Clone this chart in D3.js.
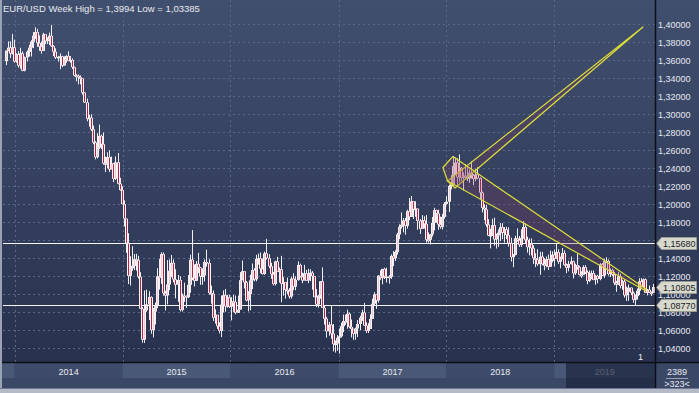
<!DOCTYPE html>
<html><head><meta charset="utf-8">
<script src="https://cdn.jsdelivr.net/npm/d3@7"></script>
<style>html,body{margin:0;padding:0;background:#2f3a57;overflow:hidden}svg{display:block}</style>
</head><body><svg id="c" width="699" height="393"></svg>
<script>
// ---------- DATA ----------
const firstWeek = Date.UTC(2013, 11, 2);   // Monday of first weekly bar
const firstOpen = 1.3590;
const closes = [
 1.3707,1.3740,1.3675,1.3743,1.3588,
 1.3666,1.3542,1.3676,1.3486,1.3633,1.3693,1.3740,1.3806,1.3874,1.3913,1.3792,1.3752,1.3704,1.3888,1.3813,1.3830,1.3872,1.3757,1.3695,1.3630,1.3638,1.3643,1.3542,1.3609,1.3647,1.3594,1.3604,1.3523,1.3430,1.3428,1.3412,1.3398,1.3242,1.3132,1.2951,1.2962,1.2832,1.2686,1.2524,1.2629,1.2760,1.2668,1.2455,1.2456,1.2525,1.2388,1.2452,1.2284,1.2466,1.2229,1.2158,1.2002,
 1.1840,1.1567,1.1205,1.1290,1.1316,1.1389,1.1380,1.1195,1.0840,1.0497,1.0822,1.0888,1.0970,1.0602,1.0808,1.0873,1.1199,1.1197,1.1446,1.1013,1.0987,1.1109,1.1262,1.1349,1.1166,1.1106,1.1159,1.0827,1.0984,1.0982,1.0968,1.1105,1.1384,1.1181,1.1150,1.1338,1.1297,1.1200,1.1208,1.1359,1.1348,1.1014,1.1005,1.0740,1.0772,1.0646,1.0593,1.0885,1.0990,1.0866,1.0964,1.0862,
 1.0920,1.0916,1.0795,1.0831,1.1157,1.1256,1.1132,1.0933,1.1002,1.1155,1.1268,1.1167,1.1393,1.1400,1.1283,1.1226,1.1454,1.1402,1.1312,1.1223,1.1114,1.1365,1.1250,1.1276,1.1117,1.1137,1.1050,1.1038,1.0976,1.1173,1.1085,1.1160,1.1325,1.1197,1.1154,1.1233,1.1154,1.1224,1.1239,1.1201,1.0969,1.0887,1.0985,1.1144,1.0850,1.0729,1.0589,1.0662,1.0563,1.0447,1.0453,1.0517,
 1.0534,1.0645,1.0702,1.0697,1.0784,1.0638,1.0615,1.0562,1.0620,1.0671,1.0740,1.0797,1.0653,1.0594,1.0614,1.0727,1.0895,1.0998,1.0932,1.1206,1.1183,1.1282,1.1197,1.1197,1.1195,1.1426,1.1400,1.1469,1.1665,1.1750,1.1773,1.1819,1.1761,1.1923,1.1860,1.2033,1.1945,1.1952,1.1816,1.1728,1.1821,1.1782,1.1607,1.1606,1.1667,1.1794,1.1934,1.1898,1.1776,1.1750,1.1860,1.2005,
 1.2029,1.2201,1.2221,1.2424,1.2462,1.2300,1.2405,1.2294,1.2317,1.2307,1.2287,1.2352,1.2323,1.2282,1.2330,1.2290,1.2130,1.1960,1.1942,1.1775,1.1653,1.1659,1.1767,1.1609,1.1655,1.1684,1.1745,1.1686,1.1720,1.1658,1.1567,1.1413,1.1438,1.1622,1.1602,1.1550,1.1625,1.1747,1.1605,1.1524,1.1558,1.1512,1.1401,1.1387,1.1335,1.1418,1.1336,1.1317,1.1390,1.1306,1.1371,1.1439,1.1397,
 1.1468,1.1363,1.1408,1.1457,1.1325,1.1295,1.1336,1.1365,1.1234,1.1325,1.1302,1.1217,1.1216,1.1302,1.1246,1.1150,1.1200,1.1235,1.1160,1.1205,1.1170,1.1333,1.1208,1.1370,1.1370,1.1225,1.1270,1.1218,1.1127,1.1108,1.1200,1.1092,1.1143,1.0989,1.1028,1.1074,1.1016,1.0940,1.0979,1.1039,1.1143,1.1080,1.1165,1.1017,1.1051,1.1019,1.1016,1.1081
];
const highs = [
 1.3709,1.3811,1.3811,1.3893,1.3830,
 1.3678,1.3702,1.3740,1.3700,1.3642,1.3710,1.3773,1.3824,1.3915,1.3967,1.3948,1.3877,1.3810,1.3906,1.3867,1.3855,1.3907,1.3994,1.3770,1.3733,1.3650,1.3677,1.3650,1.3644,1.3657,1.3700,1.3648,1.3620,1.3530,1.3445,1.3444,1.3433,1.3359,1.3239,1.3174,1.2994,1.3001,1.2875,1.2702,1.2791,1.2887,1.2775,1.2798,1.2531,1.2578,1.2600,1.2531,1.2457,1.2532,1.2570,1.2295,1.2200,
 1.2044,1.1840,1.1679,1.1423,1.1534,1.1448,1.1450,1.1428,1.1245,1.0860,1.1043,1.1052,1.1035,1.0978,1.0849,1.0908,1.1290,1.1392,1.1467,1.1465,1.1040,1.1380,1.1386,1.1436,1.1387,1.1278,1.1215,1.1201,1.1008,1.1129,1.0987,1.1214,1.1440,1.1714,1.1332,1.1370,1.1460,1.1301,1.1287,1.1387,1.1495,1.1389,1.1096,1.1043,1.0833,1.0760,1.0690,1.0987,1.1043,1.1059,1.0994,1.0993,
 1.0970,1.0995,1.0986,1.0985,1.1246,1.1376,1.1216,1.1148,1.1034,1.1218,1.1342,1.1290,1.1438,1.1453,1.1464,1.1398,1.1475,1.1616,1.1445,1.1350,1.1247,1.1373,1.1416,1.1298,1.1427,1.1189,1.1120,1.1186,1.1069,1.1197,1.1234,1.1200,1.1366,1.1341,1.1241,1.1327,1.1271,1.1283,1.1278,1.1258,1.1137,1.1058,1.0992,1.1146,1.1299,1.0870,1.0750,1.0693,1.0873,1.0670,1.0487,1.0548,
 1.0620,1.0685,1.0775,1.0774,1.0829,1.0799,1.0720,1.0618,1.0630,1.0713,1.0761,1.0829,1.0905,1.0690,1.0680,1.0779,1.0951,1.1024,1.0998,1.1212,1.1268,1.1283,1.1296,1.1296,1.1212,1.1445,1.1480,1.1490,1.1683,1.1777,1.1910,1.1846,1.1849,1.1940,1.2070,1.2092,1.2035,1.2034,1.1948,1.1834,1.1880,1.1867,1.1880,1.1688,1.1670,1.1860,1.1961,1.1940,1.1940,1.1863,1.1893,1.2023,
 1.2089,1.2219,1.2323,1.2536,1.2520,1.2511,1.2555,1.2414,1.2355,1.2446,1.2413,1.2388,1.2476,1.2337,1.2396,1.2414,1.2300,1.2142,1.1999,1.1996,1.1834,1.1728,1.1840,1.1852,1.1673,1.1720,1.1791,1.1790,1.1747,1.1750,1.1745,1.1629,1.1448,1.1650,1.1733,1.1647,1.1722,1.1815,1.1791,1.1640,1.1622,1.1621,1.1545,1.1456,1.1500,1.1472,1.1472,1.1401,1.1420,1.1442,1.1486,1.1477,1.1497,
 1.1570,1.1500,1.1419,1.1514,1.1489,1.1342,1.1372,1.1420,1.1374,1.1339,1.1448,1.1316,1.1255,1.1323,1.1324,1.1265,1.1265,1.1263,1.1264,1.1216,1.1216,1.1348,1.1348,1.1393,1.1412,1.1386,1.1286,1.1286,1.1249,1.1150,1.1250,1.1230,1.1161,1.1164,1.1085,1.1109,1.1076,1.1032,1.0998,1.1064,1.1179,1.1180,1.1175,1.1176,1.1059,1.1097,1.1031,1.1116
];
const lows = [
 1.3546,1.3700,1.3626,1.3665,1.3574,
 1.3573,1.3520,1.3507,1.3478,1.3477,1.3587,1.3642,1.3642,1.3735,1.3838,1.3750,1.3705,1.3673,1.3715,1.3780,1.3780,1.3772,1.3750,1.3647,1.3615,1.3585,1.3502,1.3525,1.3560,1.3573,1.3590,1.3575,1.3503,1.3421,1.3367,1.3333,1.3332,1.3218,1.3125,1.2922,1.2861,1.2814,1.2667,1.2500,1.2510,1.2612,1.2614,1.2440,1.2358,1.2399,1.2359,1.2394,1.2246,1.2269,1.2221,1.2150,1.1999,
 1.1754,1.1460,1.1114,1.1098,1.1261,1.1270,1.1263,1.1176,1.0837,1.0462,1.0459,1.0806,1.0713,1.0562,1.0521,1.0665,1.0846,1.1052,1.1115,1.0985,1.0819,1.0888,1.1048,1.1193,1.1134,1.0955,1.0916,1.0809,1.0808,1.0915,1.0848,1.0957,1.1017,1.1157,1.1087,1.1154,1.1236,1.1105,1.1106,1.1144,1.1308,1.0997,1.0896,1.0704,1.0674,1.0616,1.0565,1.0524,1.0800,1.0805,1.0850,1.0847,
 1.0711,1.0804,1.0778,1.0809,1.0849,1.1159,1.1065,1.0922,1.0810,1.0822,1.1057,1.1144,1.1144,1.1329,1.1233,1.1217,1.1216,1.1386,1.1290,1.1173,1.1098,1.1098,1.1250,1.1130,1.0912,1.0985,1.0952,1.1000,1.0952,1.0953,1.1046,1.1045,1.1150,1.1186,1.1123,1.1162,1.1151,1.1124,1.1147,1.1051,1.0968,1.0858,1.0852,1.0951,1.0849,1.0663,1.0518,1.0540,1.0505,1.0366,1.0352,1.0372,
 1.0340,1.0520,1.0580,1.0660,1.0618,1.0622,1.0521,1.0494,1.0494,1.0525,1.0600,1.0705,1.0650,1.0570,1.0570,1.0640,1.0727,1.0872,1.0838,1.0907,1.1161,1.1110,1.1170,1.1131,1.1118,1.1171,1.1313,1.1370,1.1442,1.1612,1.1730,1.1688,1.1662,1.1730,1.1823,1.1881,1.1837,1.1861,1.1717,1.1670,1.1730,1.1730,1.1574,1.1574,1.1554,1.1642,1.1710,1.1795,1.1717,1.1729,1.1720,1.1841,
 1.1995,1.1915,1.2165,1.2200,1.2335,1.2206,1.2245,1.2260,1.2154,1.2273,1.2258,1.2239,1.2285,1.2214,1.2256,1.2278,1.2055,1.1910,1.1822,1.1750,1.1647,1.1510,1.1648,1.1541,1.1508,1.1527,1.1590,1.1613,1.1575,1.1613,1.1529,1.1364,1.1301,1.1433,1.1585,1.1526,1.1526,1.1619,1.1570,1.1463,1.1433,1.1432,1.1336,1.1302,1.1316,1.1216,1.1322,1.1267,1.1300,1.1269,1.1346,1.1355,1.1309,
 1.1395,1.1338,1.1289,1.1389,1.1317,1.1234,1.1255,1.1330,1.1176,1.1215,1.1273,1.1209,1.1183,1.1217,1.1226,1.1111,1.1136,1.1167,1.1155,1.1106,1.1123,1.1156,1.1202,1.1182,1.1346,1.1207,1.1192,1.1200,1.1101,1.1027,1.1107,1.1066,1.1051,1.0963,1.0926,1.0927,1.0990,1.0905,1.0879,1.0940,1.0992,1.1073,1.1065,1.1014,1.0988,1.1014,1.0981,1.1015
];
const yTicks = [1.04,1.06,1.08,1.10,1.12,1.14,1.16,1.18,1.20,1.22,1.24,1.26,1.28,1.30,1.32,1.34,1.36,1.38,1.40];
const years = [2014, 2015, 2016, 2017, 2018, 2019];
const levelLines = [1.1568, 1.0877];
const priceTags = [1.1568, 1.10805, 1.0877];
const titleText = "EUR/USD Week High = 1,3994 Low = 1,03385";
const barCountText = "2389";
const visibleText = ">323<";
// drawn objects (date, price)
const upWedge = [["2018-01-05",1.2259],["2019-10-28",1.3970],["2018-01-30",1.2181]];
const downWedge = [["2018-01-23",1.2531],["2019-11-07",1.1059],["2019-11-07",1.1037],["2018-01-05",1.2259],["2017-12-20",1.2409]];

// ---------- CHART ----------
const W = 699, H = 393;
const plot = {left: 3, right: 655, top: 0, bottom: 362};
const svg = d3.select("#c");
const defs = svg.append("defs");
const grad = defs.append("linearGradient").attr("id","bg").attr("x1",0).attr("y1",0).attr("x2",0).attr("y2",1);
grad.append("stop").attr("offset","0%").attr("stop-color","#414f6e");
grad.append("stop").attr("offset","100%").attr("stop-color","#28324f");
defs.append("clipPath").attr("id","clip").append("rect")
  .attr("x",plot.left).attr("y",plot.top).attr("width",plot.right-plot.left).attr("height",plot.bottom-plot.top);

svg.append("rect").attr("x",0).attr("y",0).attr("width",W).attr("height",plot.bottom).attr("fill","url(#bg)");

const x = d3.scaleUtc().domain([new Date(Date.UTC(2014,0,1)), new Date(Date.UTC(2019,0,1))]).range([14.7, 554.3]);
const y = d3.scaleLinear().domain([1.04, 1.40]).range([348.3, 24.3]);

const dates = d3.utcMonday.range(new Date(firstWeek), d3.utcMonday.offset(new Date(firstWeek), closes.length));
const bars = closes.map((c,i) => {
  const o = i === 0 ? firstOpen : closes[i-1];
  return {date: dates[i], o, c, h: Math.max(highs[i], o, c), l: Math.min(lows[i], o, c)};
});

// grid
const g = svg.append("g");
g.selectAll("line.hg").data(yTicks).join("line")
  .attr("x1",plot.left).attr("x2",plot.right)
  .attr("y1",d=>Math.round(y(d))+0.5).attr("y2",d=>Math.round(y(d))+0.5)
  .attr("stroke","#5b6885").attr("stroke-dasharray","2,3").attr("stroke-width",1);
g.selectAll("line.vg").data(years).join("line")
  .attr("x1",d=>Math.round(x(new Date(Date.UTC(d,0,1))))+0.5).attr("x2",d=>Math.round(x(new Date(Date.UTC(d,0,1))))+0.5)
  .attr("y1",0).attr("y2",plot.bottom)
  .attr("stroke","#5b6885").attr("stroke-dasharray","2,3").attr("stroke-width",1);

// level lines
svg.selectAll("line.lvl").data(levelLines).join("line")
  .attr("x1",plot.left).attr("x2",plot.right)
  .attr("y1",d=>Math.round(y(d))+0.5).attr("y2",d=>Math.round(y(d))+0.5)
  .attr("stroke","#f4f4f4").attr("stroke-width",1.2);

// candles
const cg = svg.append("g").attr("clip-path","url(#clip)");
const cx = d => Math.round(x(d.date));
cg.selectAll("line.wick").data(bars).join("line")
  .attr("x1",d=>cx(d)+0.5).attr("x2",d=>cx(d)+0.5)
  .attr("y1",d=>y(d.h)).attr("y2",d=>y(d.l))
  .attr("stroke","#f2eef2").attr("stroke-width",1);
cg.selectAll("rect.body").data(bars).join("rect")
  .attr("x",d=>cx(d)-1).attr("width",3)
  .attr("y",d=>y(Math.max(d.o,d.c))).attr("height",d=>Math.max(1.5, y(Math.min(d.o,d.c))-y(Math.max(d.o,d.c))))
  .attr("fill","#fbf4f6");
cg.selectAll("rect.inner").data(bars).join("rect")
  .attr("x",d=>cx(d)).attr("width",1)
  .attr("y",d=>y(Math.max(d.o,d.c))+0.5).attr("height",d=>Math.max(0.5, y(Math.min(d.o,d.c))-y(Math.max(d.o,d.c))-1))
  .attr("fill",d=> d.c < d.o ? "#b32344" : "#f0c8d2");

// drawings
const dg = svg.append("g").attr("clip-path","url(#clip)");
const pt = p => [x(new Date(p[0]+"T00:00:00Z")), y(p[1])];
[upWedge, downWedge].forEach(poly => {
  dg.append("path").attr("d", d3.line()(poly.map(pt)) + "Z")
    .attr("fill","rgba(130,60,100,0.27)").attr("stroke","#dcdc3a").attr("stroke-width",1.2)
    .attr("stroke-linejoin","round");
});

// "1" marker
svg.append("text").attr("x",643).attr("y",360).attr("text-anchor","end")
  .attr("font-family","Liberation Sans, Arial, sans-serif").attr("font-size",9).attr("fill","#f0f0f0").text("1");

// title
svg.append("text").attr("x",3).attr("y",12)
  .attr("font-family","Liberation Sans, Arial, sans-serif").attr("font-size",9.5).attr("fill","#e8eaf0").text(titleText);

// right axis (labels fully hidden behind a price tag are not drawn)
const shownTicks = yTicks.filter(t => !priceTags.some(p => Math.abs(y(p) - y(t)) < 4));
const ax = svg.append("g").attr("transform",`translate(${plot.right},0)`)
  .call(d3.axisRight(y).tickValues(shownTicks).tickSize(0).tickPadding(3).tickFormat(d=>d.toFixed(5).replace(".",",")));
ax.select(".domain").remove();
ax.selectAll("text").attr("font-family","Liberation Sans, Arial, sans-serif").attr("font-size",9).attr("fill","#e4e8f0").attr("dy","0.4em");

// price tags
const tg = svg.selectAll("g.tag").data(priceTags).join("g").attr("transform",d=>`translate(0,${Math.round(y(d))+0.5})`);
tg.append("path").attr("d","M656.5,0 L661.5,-6 L696.5,-6 L696.5,6 L661.5,6 Z")
  .attr("fill","#d7d9cf").attr("stroke","#9a9c92").attr("stroke-width",1);
tg.append("text").attr("x",663).attr("y",3.5)
  .attr("font-family","Liberation Sans, Arial, sans-serif").attr("font-size",9).attr("fill","#1c1c1c")
  .text(d=>d.toFixed(5).replace(".",","));

// bottom time axis strip
const sg = svg.append("g");
sg.append("rect").attr("x",0).attr("y",plot.bottom).attr("width",W).attr("height",H-plot.bottom).attr("fill","#3a4765");
sg.append("rect").attr("x",0).attr("y",plot.bottom+1).attr("width",x(new Date(Date.UTC(2014,0,1)))).attr("height",15).attr("fill","#4a5877");
years.forEach((yr,i) => {
  const x0 = x(new Date(Date.UTC(yr,0,1)));
  const x1 = yr === 2019 ? plot.right : x(new Date(Date.UTC(yr+1,0,1)));
  sg.append("rect").attr("x",x0).attr("y",plot.bottom+1).attr("width",x1-x0).attr("height",15)
    .attr("fill", i%2===0 ? "#3d4a69" : "#4a5877");
  sg.append("text").attr("x",(x0+x1)/2).attr("y",374.5).attr("text-anchor","middle")
    .attr("font-family","Liberation Sans, Arial, sans-serif").attr("font-size",9).attr("fill","#e8eaf0").text(yr);
});
// dark overlay (visible window indicator)
sg.append("rect").attr("x",566).attr("y",plot.bottom+1).attr("width",plot.right-566).attr("height",26).attr("fill","rgba(28,37,62,0.72)");

// frame lines
svg.append("line").attr("x1",0).attr("x2",W).attr("y1",plot.bottom+0.5).attr("y2",plot.bottom+0.5).attr("stroke","#0c0f18").attr("stroke-width",1.5);
svg.append("line").attr("x1",plot.right+0.5).attr("x2",plot.right+0.5).attr("y1",0).attr("y2",389).attr("stroke","#0c0f18").attr("stroke-width",1.5);
svg.append("rect").attr("x",0).attr("y",0).attr("width",2).attr("height",H).attr("fill","#9aa2b4");
svg.append("rect").attr("x",0).attr("y",389).attr("width",W).attr("height",4).attr("fill","#b4bac6");
svg.append("line").attr("x1",0).attr("x2",W).attr("y1",388.5).attr("y2",388.5).attr("stroke","#6e7890");

// bottom-right counter box
svg.append("text").attr("x",677).attr("y",375).attr("text-anchor","middle")
  .attr("font-family","Liberation Sans, Arial, sans-serif").attr("font-size",9).attr("fill","#e8eaf0").text(barCountText);
svg.append("line").attr("x1",666).attr("x2",688).attr("y1",378.5).attr("y2",378.5).attr("stroke","#9aa2b4");
svg.append("text").attr("x",677).attr("y",387).attr("text-anchor","middle")
  .attr("font-family","Liberation Sans, Arial, sans-serif").attr("font-size",9).attr("fill","#e8eaf0").text(visibleText);
</script></body></html>
